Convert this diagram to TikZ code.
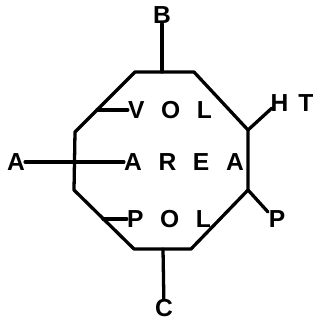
\documentclass[tikz,border=0pt]{standalone}
\usepackage{fontspec}
\setmainfont{Liberation Sans}
\usetikzlibrary{positioning}

\newcommand{\gap}{\hspace{0.5cm}}

\begin{document}
\begin{tikzpicture}[
  x=0.03cm, y=-0.03cm,
  wire/.style={line width=2.8pt, line cap=round, line join=round},
  lbl/.style={font=\fontsize{21}{21}\selectfont\bfseries, inner sep=0pt}
]
\useasboundingbox (0,0) rectangle (320,320);
% octagon corners
\coordinate (o1) at (135,72);
\coordinate (o2) at (194,72);
\coordinate (o3) at (248,130);
\coordinate (o4) at (248,190);
\coordinate (o5) at (191,249);
\coordinate (o6) at (134,249);
\coordinate (o7) at (74,190);
\coordinate (o8) at (75,132);
\draw[wire] (o1) -- (o2) -- (o3) -- (o4) -- (o5) -- (o6) -- (o7) -- (o8) -- cycle;

% labels
\node[lbl] (b) at (162,15) {B};
\node[lbl] (c) at (164,308) {C};
\node[lbl] (a) at (16,162) {A};
\node[lbl] (ht) at (292,103) {H\hspace{0.3cm}T};
\node[lbl] (p) at (277,219) {P};
\node[lbl] (vol) at (170,110) {V\gap O\gap L};
\node[lbl] (area) at (184,162) {A\gap R\gap E\gap A};
\node[lbl] (pol) at (169,219) {P\gap O\gap L};

% tap points on the octagon
\coordinate (topmid) at (162,72);
\coordinate (botmid) at (163,249);
\coordinate (voltap) at (97,110);
\coordinate (poltap) at (103,219);
\coordinate (htend) at (272,108);
\coordinate (pend) at (268,212);

\draw[wire] (b) -- (topmid);
\draw[wire] (botmid) -- (c);
\draw[wire] (a) -- (area);
\draw[wire] (voltap) -- (vol);
\draw[wire] (poltap) -- (pol);
\draw[wire] (o3) -- (htend);
\draw[wire] (o4) -- (pend);
\end{tikzpicture}
\end{document}
